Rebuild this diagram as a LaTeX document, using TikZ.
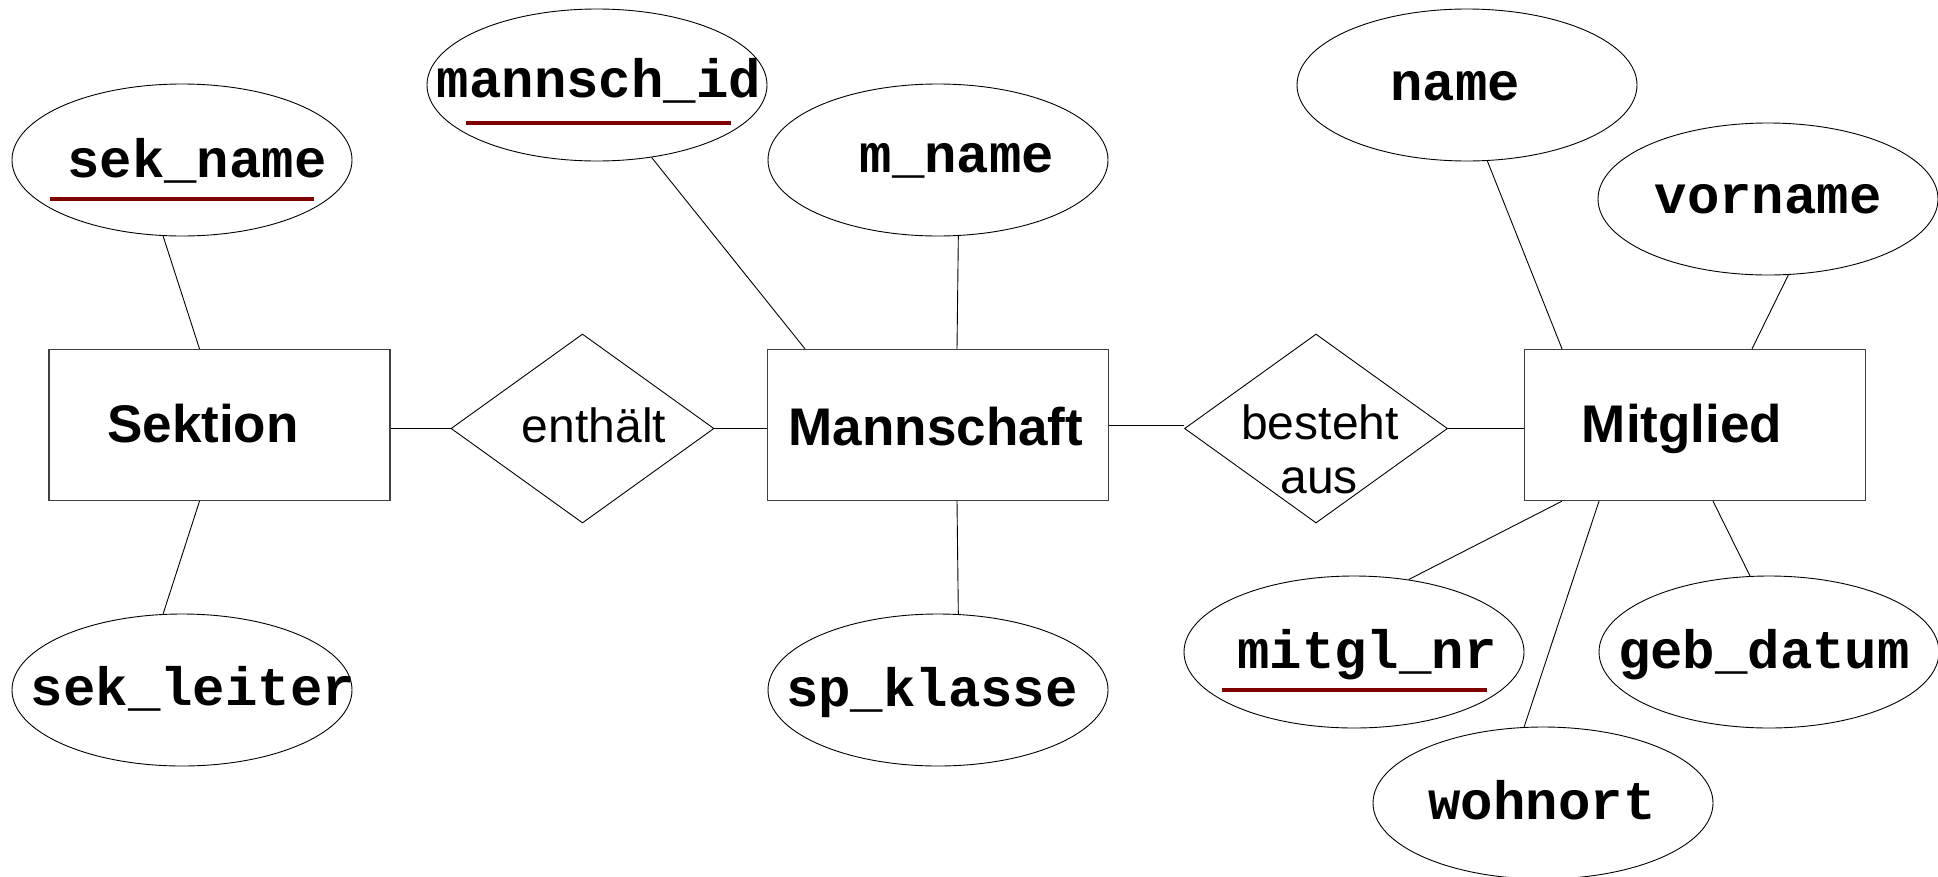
\documentclass[tikz,border=0pt]{standalone}
\usepackage{fontspec}
\setmainfont{Liberation Sans}
\newfontfamily\attrfont{Liberation Mono}
\usetikzlibrary{shapes.geometric,calc}
\definecolor{keyred}{HTML}{800000}
\begin{document}
\begin{tikzpicture}[x=1pt,y=-1pt,
  attr/.style={ellipse,draw,line width=0.9pt,minimum width=340pt,minimum height=152pt,inner sep=0pt},
  entity/.style={rectangle,draw=black!75,line width=1.3pt,minimum width=341pt,minimum height=151pt,inner sep=0pt},
  rel/.style={diamond,draw,line width=0.9pt,minimum width=263pt,minimum height=189pt,inner sep=0pt},
  atext/.style={anchor=base,inner sep=0pt,font=\attrfont\bfseries\fontsize{54}{60}\selectfont},
  etext/.style={anchor=base,inner sep=0pt,font=\bfseries\fontsize{53}{60}\selectfont},
  rtext/.style={anchor=base,inner sep=0pt,font=\fontsize{48}{53}\selectfont},
  conn/.style={line width=0.9pt},
  keyline/.style={draw=keyred,line width=4.5pt}]
\useasboundingbox (0,0) rectangle (1938,876);
\fill[white] (0,0) rectangle (1938,876);

% entities
\node[entity] (sektion) at (219.5,425) {};
\node[entity] (mannschaft) at (938,425) {};
\node[entity] (mitglied) at (1695,425) {};
% relationships
\node[rel] (enthalt) at (582.5,428.5) {};
\node[rel] (besteht) at (1316,428.5) {};
% attributes
\node[attr] (sekname) at (182,160) {};
\node[attr] (sekleiter) at (182,690) {};
\node[attr] (mannschid) at (597,85) {};
\node[attr] (mname) at (938,160) {};
\node[attr] (spklasse) at (938,690) {};
\node[attr] (name) at (1467,85) {};
\node[attr] (vorname) at (1768,199) {};
\node[attr] (mitglnr) at (1354,652) {};
\node[attr] (gebdatum) at (1769,652) {};
\node[attr] (wohnort) at (1543,803) {};

% texts
\node[etext] (tsektion) at (203,442) {Sektion};
\node[etext] (tmannschaft) at (936,445) {Mannschaft};
\node[etext] (tmitglied) at (1682,442) {Mitglied};
\node[rtext] (tenthalt) at (594,442) {enthält};
\node[rtext] (tbesteht) at (1320,439) {besteht};
\node[rtext] (taus) at (1319,493) {aus};
\node[atext] (tsekname) at (197,177) {sek\_name};
\node[atext] (tsekleiter) at (193,705) {sek\_leiter};
\node[atext] (tmannschid) at (599,97) {mannsch\_id};
\node[atext] (tmname) at (957,172) {m\_name};
\node[atext] (tspklasse) at (932,706) {sp\_klasse};
\node[atext] (tname) at (1455,100) {name};
\node[atext] (tvorname) at (1768,213) {vorname};
\node[atext] (tmitglnr) at (1367,668) {mitgl\_nr};
\node[atext] (tgebdatum) at (1764,668) {geb\_datum};
\node[atext] (twohnort) at (1542,819) {wohnort};

% key underlines
\draw[keyline] (49.5,199) -- (314,199);
\draw[keyline] (466,123) -- (731,123);
\draw[keyline] (1222,690) -- (1487,690);

% connectors
\draw[conn] (sekname.256) -- ($(sektion.north)+(-20,0)$);
\draw[conn] (sekleiter.104) -- ($(sektion.south)+(-20,0)$);
\draw[conn] (enthalt.west) -- (enthalt.west -| sektion.east);
\draw[conn] (enthalt.east) -- (enthalt.east -| mannschaft.west);
\draw[conn] (mannschid.307) -- ($(mannschaft.north)+(-133,0)$);
\draw[conn] (mname.285) -- ($(mannschaft.north)+(19,0)$);
\draw[conn] (spklasse.75) -- ($(mannschaft.south)+(19,0)$);
\draw[conn] (mannschaft.east) -- (mannschaft.east -| besteht.west);
\draw[conn] (besteht.east) -- (besteht.east -| mitglied.west);
\draw[conn] (name.285) -- ($(mitglied.north)+(-133,0)$);
\draw[conn] (vorname.285) -- ($(mitglied.north)+(57,0)$);
\draw[conn] (mitglnr.53) -- ($(mitglied.south)+(-133,0)$);
\draw[conn] (wohnort.104) -- ($(mitglied.south)+(-96,0)$);
\draw[conn] (gebdatum.104) -- ($(mitglied.south)+(18,0)$);
\end{tikzpicture}
\end{document}
